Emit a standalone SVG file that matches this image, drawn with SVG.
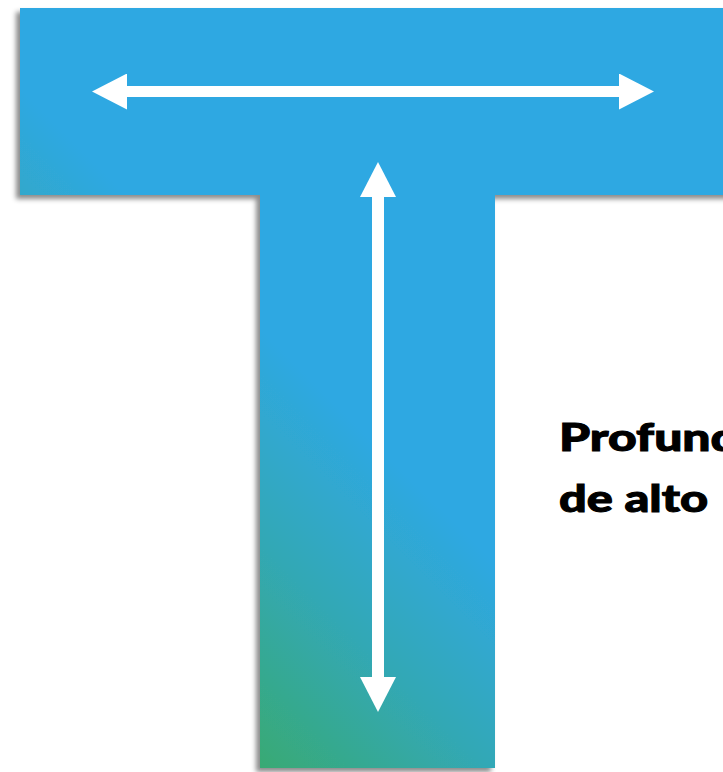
<svg xmlns="http://www.w3.org/2000/svg" width="723" height="772" viewBox="0 0 723 772">
  <defs>
    <linearGradient id="tGrad" gradientUnits="userSpaceOnUse" x1="100" y1="648" x2="340" y2="408">
      <stop offset="0" stop-color="#39AA68"/>
      <stop offset="0.55" stop-color="#33A8B4"/>
      <stop offset="1" stop-color="#2EA8E2"/>
    </linearGradient>
    <filter id="shadow" x="-10%" y="-10%" width="120%" height="120%">
      <feDropShadow dx="-4" dy="4" stdDeviation="2.5" flood-color="#000000" flood-opacity="0.45"/>
    </filter>
    <marker id="head" viewBox="0 0 35 36" refX="0" refY="18" markerWidth="35" markerHeight="36" markerUnits="userSpaceOnUse" orient="auto-start-reverse">
      <path d="M0,0 L35,18 L0,36 Z" fill="#FFFFFF"/>
    </marker>
    <style>
      .arrow { stroke: #FFFFFF; fill: none; stroke-linecap: butt; marker-start: url(#head); marker-end: url(#head); }
      .label { font-family: "Lato", "Open Sans", "Liberation Sans", sans-serif; font-weight: 900; font-size: 38px; fill: #000000; stroke: #000000; stroke-width: 1; }
    </style>
  </defs>
  <rect width="723" height="772" fill="#FFFFFF"/>
  <g id="t-shape">
    <path d="M20,8 H760 V195 H495 V768 H260 V195 H20 Z" fill="url(#tGrad)" filter="url(#shadow)"/>
  </g>
  <g id="connectors">
    <line class="arrow" x1="127" y1="91.5" x2="619" y2="91.5" stroke-width="11"/>
    <line class="arrow" x1="378" y1="197" x2="378" y2="677" stroke-width="12"/>
  </g>
  <g id="label">
    <text class="label" x="559" y="451" textLength="180" lengthAdjust="spacingAndGlyphs">Profund</text>
    <text class="label" x="559" y="512" textLength="149" lengthAdjust="spacingAndGlyphs">de alto</text>
  </g>
</svg>
